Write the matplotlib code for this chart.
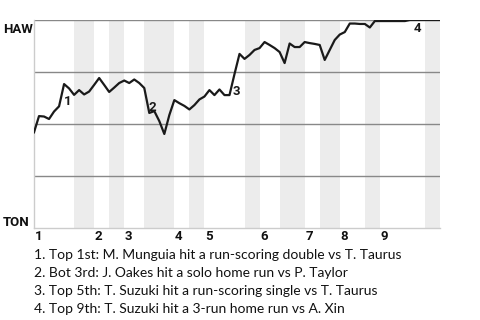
import matplotlib
matplotlib.use("Agg")
import matplotlib.pyplot as plt
import matplotlib.transforms as mtransforms

# win probability for HAW after each plate appearance (0 = TON, 1 = HAW)
wp = [0.46, 0.538, 0.536, 0.524, 0.56, 0.585, 0.692, 0.671, 0.64, 0.663,
      0.642, 0.656, 0.688, 0.721, 0.688, 0.654, 0.675, 0.697, 0.709, 0.697,
      0.714, 0.697, 0.673, 0.553, 0.562, 0.514, 0.452, 0.543, 0.615, 0.60,
      0.587, 0.57, 0.591, 0.618, 0.632, 0.663, 0.639, 0.666, 0.639, 0.639,
      0.74, 0.837, 0.813, 0.832, 0.856, 0.865, 0.894, 0.88, 0.865, 0.846,
      0.793, 0.887, 0.87, 0.87, 0.894, 0.889, 0.885, 0.88, 0.808, 0.856,
      0.904, 0.93, 0.942, 0.983, 0.983, 0.981, 0.981, 0.964, 0.995, 0.995,
      0.995, 0.995, 0.995, 0.995, 0.995, 1.0, 1.0, 1.0, 1.0, 1.0, 1.0, 1.0]

# plate appearance index where each inning starts (top half)
inning_start = [0, 12, 18, 28, 34, 45, 54, 61, 69]
# bottom halves (shaded): start, end
bottom_halves = [(8, 12), (15, 18), (22, 28), (31, 34), (42, 45),
                 (49, 54), (57, 61), (66, 69), (78, 81)]

# key events: label, x position, y position
event_labels = ["1", "2", "3", "4"]
event_x = [5.9, 22.8, 39.6, 75.8]
event_y = [0.606, 0.579, 0.654, 0.957]

notes = [
    "1. Top 1st: M. Munguia hit a run-scoring double vs T. Taurus",
    "2. Bot 3rd: J. Oakes hit a solo home run vs P. Taylor",
    "3. Top 5th: T. Suzuki hit a run-scoring single vs T. Taurus",
    "4. Top 9th: T. Suzuki hit a 3-run home run vs A. Xin",
]

plt.rcParams['font.family'] = ['Lato', 'DejaVu Sans']

fig = plt.figure(figsize=(4.8, 3.2), dpi=100)
ax = fig.add_axes([34/480, 1-228/320, 406/480, 208/320])

for a, b in bottom_halves:
    ax.axvspan(a, b, color="#ececec", lw=0, zorder=0)

for g in [0.25, 0.5, 0.75, 1.0]:
    ax.axhline(g, color="#888888", lw=1, zorder=1)

ax.plot(range(len(wp)), wp, color="#1a1a1a", lw=1.6, zorder=3)

ax.set_xlim(0, len(wp) - 1)
ax.set_ylim(0, 1)
ax.set_xticks([])
ax.set_yticks([])
for s in ["top", "right"]:
    ax.spines[s].set_visible(False)
for s in ["left", "bottom"]:
    ax.spines[s].set_color("#cccccc")
    ax.spines[s].set_linewidth(1)

for lab, x, y in zip(event_labels, event_x, event_y):
    ax.text(x, y, lab, ha="left", va="center", fontsize=9.5,
            fontweight="bold", family=["Roboto", "DejaVu Sans"], color="#1a1a1a", zorder=4)

trans = mtransforms.blended_transform_factory(ax.transData, ax.transAxes)
for i, x in enumerate(inning_start):
    ax.text(x + 0.1, -0.043, str(i + 1), transform=trans, ha="left", va="center",
            fontsize=9.5, fontweight="bold", family=["Roboto", "DejaVu Sans"],
            color="#111111")

fig.text(3/480, 1-23/320, "HAW", ha="left", va="top", fontsize=9.5,
         fontweight="bold", family=["Roboto", "DejaVu Sans"], color="#111111")
fig.text(3/480, 1-226/320, "TON", ha="left", va="baseline", fontsize=9.5,
         fontweight="bold", family=["Roboto", "DejaVu Sans"], color="#111111")

for i, t in enumerate(notes):
    fig.text(34/480, 1-(255 + 18*i)/320, t, ha="left", va="center",
             fontsize=10, color="#111111")

fig.savefig("out.png", dpi=100)
